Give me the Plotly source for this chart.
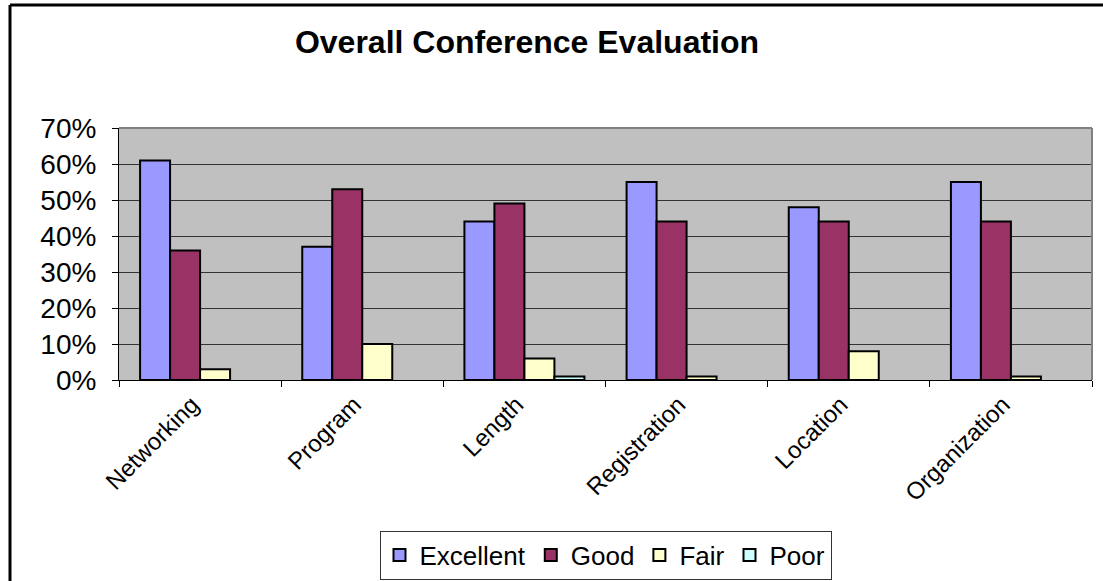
import plotly.graph_objects as go

# Survey results per conference aspect (share of respondents)
categories = ["Networking", "Program", "Length", "Registration", "Location", "Organization"]
excellent = [0.61, 0.37, 0.44, 0.55, 0.48, 0.55]
good = [0.36, 0.53, 0.49, 0.44, 0.44, 0.44]
fair = [0.03, 0.10, 0.06, 0.01, 0.08, 0.01]
poor = [0.00, 0.00, 0.01, 0.00, 0.00, 0.00]

series = [
    ("Excellent", excellent, "#9999FF"),
    ("Good", good, "#993366"),
    ("Fair", fair, "#FFFFCC"),
    ("Poor", poor, "#CCFFFF"),
]

W, H = 1103, 581
ML, MR, MT, MB = 119, 11, 128, 201
FONT = "Arial, Liberation Sans, sans-serif"
OUTLINE = 2

fig = go.Figure()
for name, vals, color in series:
    # empty bars get no outline so nothing is drawn for a zero share
    widths = [OUTLINE if v > 0 else 0 for v in vals]
    fig.add_trace(go.Bar(
        x=categories, y=vals, name=name, legendgroup=name, showlegend=False,
        marker=dict(color=color, line=dict(color="black", width=widths)),
    ))
    # legend key on a hidden overlay axis so it keeps a full outline
    fig.add_trace(go.Bar(
        x=[categories[0]], y=[None], name=name, legendgroup=name,
        xaxis="x2", yaxis="y2", hoverinfo="skip",
        marker=dict(color=color, line=dict(color="black", width=OUTLINE)),
    ))

pw = W - ML - MR
ph = H - MT - MB


def px_x(px):
    return (px - ML) / pw


def px_y(py):
    return 1 - (py - MT) / ph


shapes = [
    # grey plot-area border on top and right
    dict(type="line", xref="paper", yref="paper", x0=0, x1=1, y0=1, y1=1,
         line=dict(color="#808080", width=2)),
    dict(type="line", xref="paper", yref="paper", x0=1, x1=1, y0=0, y1=1,
         line=dict(color="#808080", width=2)),
    # outer chart frame (left and top edges)
    dict(type="line", xref="paper", yref="paper",
         x0=px_x(10), x1=px_x(10), y0=px_y(5), y1=px_y(H + 10),
         line=dict(color="black", width=3)),
    dict(type="line", xref="paper", yref="paper",
         x0=px_x(10), x1=px_x(W + 10), y0=px_y(5), y1=px_y(5),
         line=dict(color="black", width=3)),
]

fig.update_layout(
    width=W, height=H,
    margin=dict(l=ML, r=MR, t=MT, b=MB, autoexpand=False),
    paper_bgcolor="white",
    plot_bgcolor="#C0C0C0",
    font=dict(family=FONT, color="black"),
    title=dict(text="<b>Overall Conference Evaluation</b>",
               font=dict(size=32, family=FONT, color="black"),
               x=527 / W, xanchor="center",
               y=1 - 42 / H, yanchor="middle", yref="container"),
    barmode="group",
    bargap=0.26,
    bargroupgap=0,
    showlegend=True,
    legend=dict(orientation="h", x=0.5, xanchor="center",
                y=px_y(555), yanchor="middle",
                font=dict(size=26, family=FONT),
                bordercolor="#333333", borderwidth=1,
                bgcolor="white",
                tracegroupgap=0),
    shapes=shapes,
    xaxis=dict(
        type="category",
        tickangle=-45,
        tickson="boundaries",
        ticks="outside", ticklen=6, tickcolor="black",
        ticklabelshift=-8,
        showline=True, linecolor="black", linewidth=1,
        showgrid=False,
        tickfont=dict(size=24, family=FONT),
    ),
    yaxis=dict(
        range=[0, 0.7],
        dtick=0.1,
        tickformat=".0%",
        ticks="outside", ticklen=6, tickcolor="black",
        ticklabelstandoff=10,
        showline=True, linecolor="black", linewidth=1,
        showgrid=True, gridcolor="#333333", gridwidth=1,
        zeroline=False,
        tickfont=dict(size=28, family=FONT),
    ),
    xaxis2=dict(overlaying="x", visible=False, type="category",
                categoryarray=categories, categoryorder="array"),
    yaxis2=dict(overlaying="y", visible=False, range=[0, 0.7]),
)

fig.write_html("out.html")
